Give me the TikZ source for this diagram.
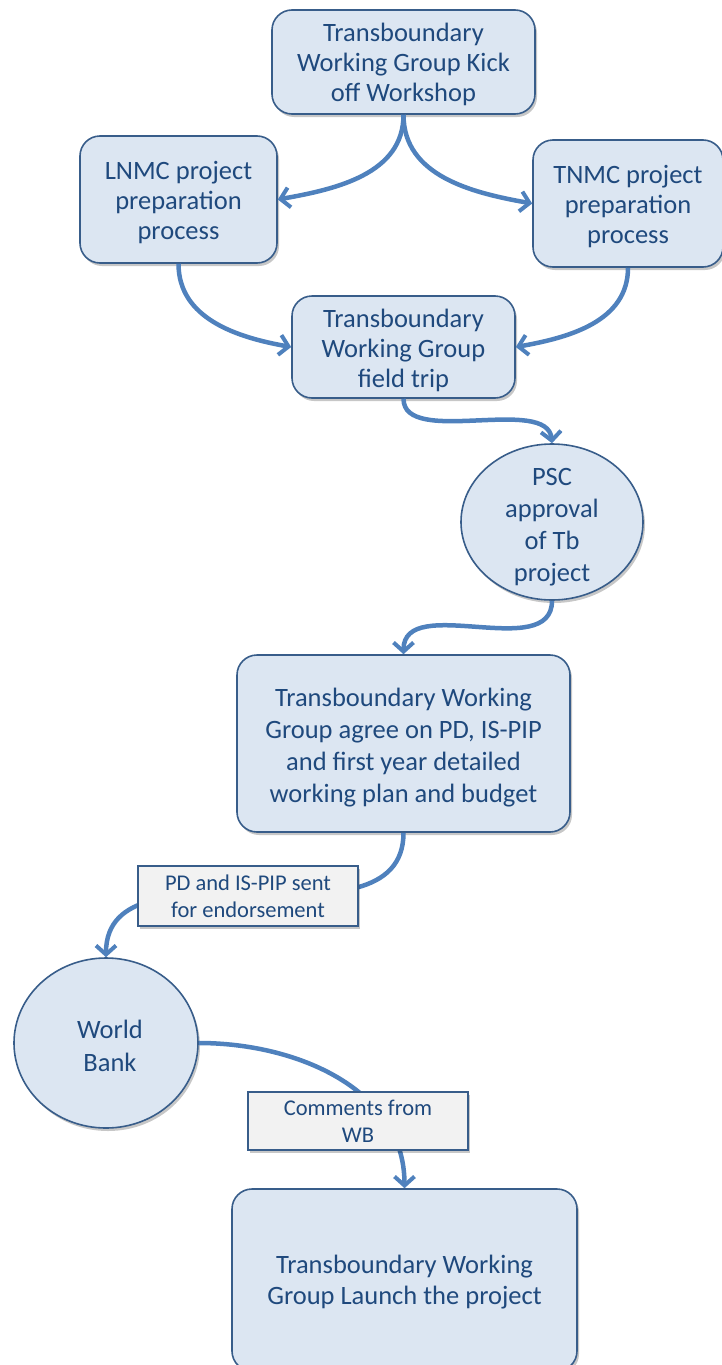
\documentclass[tikz,border=0pt]{standalone}
\usepackage{fontspec}
\setmainfont{Carlito}
\usetikzlibrary{arrows.meta,shapes.geometric,shadows}
\definecolor{txt}{HTML}{1F497D}
\definecolor{boxfill}{HTML}{DCE6F2}
\definecolor{boxline}{HTML}{385D8A}
\definecolor{conn}{HTML}{4F81BD}
\definecolor{lblfill}{HTML}{F2F2F2}
\tikzset{
  x=1pt,y=1pt,
  shade/.style={drop shadow={shadow xshift=2pt,shadow yshift=-3pt,fill=black,opacity=0.22}},
  stepbox/.style={rectangle,rounded corners=20pt,draw=boxline,line width=1.6pt,fill=boxfill,
    inner sep=0pt,shade},
  stepoval/.style={ellipse,draw=boxline,line width=1.6pt,fill=boxfill,
    inner sep=0pt,shade},
  steptext/.style={text=txt,align=center,inner sep=0pt,font=\fontsize{26.5}{30}\selectfont},
  lbl/.style={rectangle,draw=boxline,line width=1.4pt,fill=lblfill,
    text=txt,align=center,inner sep=0pt,shade,font=\fontsize{22.5}{27}\selectfont},
  link/.style={draw=conn,line width=4.5pt,
    -{Straight Barb[length=9pt,width=20pt,line width=4pt]}},
}
\begin{document}
\begin{tikzpicture}
\useasboundingbox (0,0) rectangle (722,-1365);
\node[stepbox,minimum width=263,minimum height=104] (top) at (403.5,-62) {};
\node[steptext] (topT) at ([yshift=-2pt]top.center)
  {Transboundary\\Working Group Kick\\off Workshop};
\node[stepbox,minimum width=197,minimum height=127] (lnmc) at (178.5,-199.5) {};
\node[steptext] (lnmcT) at ([yshift=-3pt]lnmc.center)
  {LNMC project\\preparation\\process};
\node[stepbox,minimum width=190,minimum height=127] (tnmc) at (628,-203.5) {};
\node[steptext] (tnmcT) at ([yshift=-3pt]tnmc.center)
  {TNMC project\\preparation\\process};
\node[stepbox,minimum width=223,minimum height=102] (field) at (403.5,-347) {};
\node[steptext] (fieldT) at ([yshift=-3pt]field.center)
  {Transboundary\\Working Group\\field trip};
\node[stepoval,minimum width=182,minimum height=156] (psc) at (552,-522) {};
\node[steptext,font=\fontsize{26.5}{32}\selectfont] (pscT) at ([yshift=-5pt]psc.center)
  {PSC\\approval\\of Tb\\project};
\node[stepbox,minimum width=333,minimum height=177] (agree) at (403.5,-743.5) {};
\node[steptext,font=\fontsize{26.5}{32}\selectfont] (agreeT) at ([yshift=-4pt]agree.center)
  {Transboundary Working\\Group agree on PD, IS-PIP\\and first year detailed\\working plan and budget};
\node[stepoval,minimum width=184,minimum height=170] (wb) at (106,-1043) {};
\node[steptext,font=\fontsize{26.5}{33}\selectfont] (wbT) at ([xshift=4pt,yshift=-3pt]wb.center)
  {World\\Bank};
\node[stepbox,minimum width=345,minimum height=182] (launch) at (404.5,-1280) {};
\node[steptext,font=\fontsize{26.5}{31}\selectfont] (launchT) at ([yshift=-2pt]launch.center)
  {Transboundary Working\\Group Launch the project};

\draw[link] (top.south) to[out=-90,in=10] (lnmc.east);
\draw[link] (top.south) to[out=-90,in=170] (tnmc.west);
\draw[link] (lnmc.south) to[out=-90,in=170] (field.west);
\draw[link] (tnmc.south) to[out=-90,in=10] (field.east);
\draw[link] (field.south) to[out=-90,in=95,looseness=0.8] (psc.north);
\draw[link] (psc.south) to[out=-90,in=90] (agree.north);
\draw[link] (agree.south) to[out=-90,in=90] (wb.north);
\draw[link] (wb.east) to[out=0,in=90] (launch.north);

\node[lbl,minimum width=220,minimum height=60] (pd) at (248,-896)
  {PD and IS-PIP sent\\for endorsement};
\node[lbl,minimum width=220,minimum height=58] (cm) at (358,-1121)
  {Comments from\\WB};
\end{tikzpicture}
\end{document}
